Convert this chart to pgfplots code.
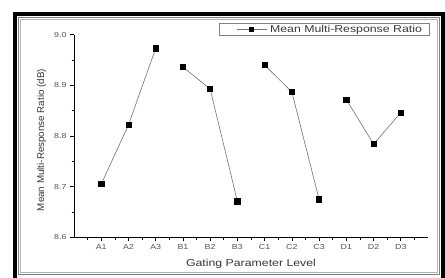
\documentclass[border=0pt]{standalone}
\usepackage{pgfplots}
\pgfplotsset{compat=1.18}
\usepackage{fontspec}
\setmainfont{Liberation Sans}[FakeStretch=1.23]
\newfontfamily\ylabfont{Liberation Sans}
\definecolor{linegray}{gray}{0.45}
\definecolor{txtgray}{gray}{0.22}
\definecolor{ticktxt}{gray}{0.32}
\begin{document}
\begin{tikzpicture}[x=1bp,y=1bp]
\useasboundingbox (0,0) rectangle (445,277);
\fill[white] (0,0) rectangle (445,277);
\draw[black, line width=4bp] (15,-5) -- (15,263) -- (443,263) -- (443,-5);
\draw[gray, line width=0.6bp] (18.5,2.5) rectangle (439.5,259.5);
\draw[gray!60, line width=0.6bp] (20.5,4.5) rectangle (437.5,257.5);
\begin{axis}[
  at={(74bp,39.7bp)}, anchor=south west,
  scale only axis, width=354bp, height=202.6bp,
  xmin=0, xmax=13, ymin=8.6, ymax=9.0,
  axis lines*=left,
  axis line style={black, line width=0.6bp, -},
  tick align=outside,
  major tick length=4bp, minor tick length=2.5bp,
  tick style={black, line width=0.6bp},
  xtick={1,2,3,4,5,6,7,8,9,10,11,12},
  xticklabels={A1,A2,A3,B1,B2,B3,C1,C2,C3,D1,D2,D3},
  minor xtick={0.5,1.5,2.5,3.5,4.5,5.5,6.5,7.5,8.5,9.5,10.5,11.5,12.5},
  ytick={8.6,8.7,8.8,8.9,9.0},
  minor ytick={8.65,8.75,8.85,8.95},
  /pgf/number format/assume math mode=true,
  yticklabel style={/pgf/number format/.cd, fixed, fixed zerofill, precision=1},
  ticklabel style={font=\fontsize{7.2bp}{8bp}\selectfont, text=ticktxt},
  xlabel={Gating Parameter Level},
  ylabel={Mean Multi-Response Ratio (dB)},
  xlabel style={at={(axis description cs:0.5,-0.145)}, anchor=base, font=\fontsize{10bp}{12bp}\selectfont, text=txtgray},
  ylabel style={at={(axis description cs:-0.0847,0.48)}, anchor=base, font=\ylabfont\fontsize{9.8bp}{12bp}\selectfont, text=txtgray},
  unbounded coords=jump,
  legend style={at={(axis description cs:1.0056,1.059)}, anchor=north east,
    draw=gray, line width=0.6bp, inner xsep=4.5bp, inner ysep=1bp,
    nodes={inner xsep=3.3bp, inner ysep=1bp},
    font=\fontsize{10bp}{12bp}\selectfont, text=txtgray},
  legend cell align=left,
  legend image code/.code={
    \path[draw=none, fill=none] (-12.5bp,-3bp) rectangle (30bp,3bp);
    \path[draw=linegray, line width=0.6bp] (0bp,0bp) -- (30bp,0bp);
    \path[fill=black, draw=none] (12.4bp,-2.6bp) rectangle (17.6bp,2.6bp);},
]
\addplot[linegray, line width=0.6bp, mark=square*, mark size=2.6bp,
  mark options={fill=black, draw=black, solid}]
  coordinates {
    (1,8.705) (2,8.822) (3,8.973) (3.5,nan)
    (4,8.936) (5,8.893) (6,8.671) (6.5,nan)
    (7,8.940) (8,8.887) (9,8.675) (9.5,nan)
    (10,8.872) (11,8.784) (12,8.846)
  };
\addlegendentry{Mean Multi-Response Ratio}
\end{axis}
\end{tikzpicture}
\end{document}
